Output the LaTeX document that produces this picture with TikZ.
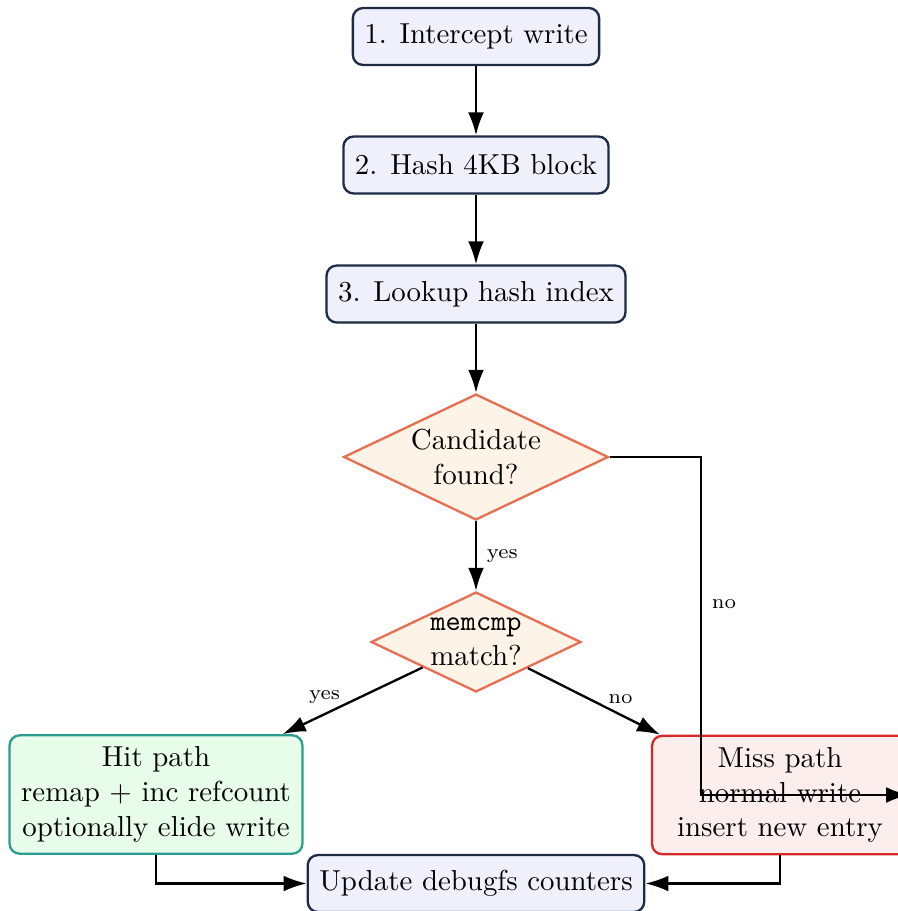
\documentclass[tikz,border=0pt]{standalone}
\usetikzlibrary{shapes.geometric,arrows.meta}
\definecolor{stepfill}{HTML}{EFF0FC}
\definecolor{stepdraw}{HTML}{1D2B45}
\definecolor{decfill}{HTML}{FDF3E7}
\definecolor{decdraw}{HTML}{E76F51}
\definecolor{hitfill}{HTML}{E8FCEA}
\definecolor{hitdraw}{HTML}{2A9D8F}
\definecolor{missfill}{HTML}{FDEEEE}
\definecolor{missdraw}{HTML}{D62828}
\tikzset{
  stepbox/.style={draw=stepdraw, fill=stepfill, thick, rounded corners=3.5pt,
    minimum height=19.7pt, inner xsep=4pt, inner ysep=4pt, align=center},
  hitbox/.style={stepbox, draw=hitdraw, fill=hitfill},
  missbox/.style={stepbox, draw=missdraw, fill=missfill},
  decbox/.style={shape=diamond, draw=decdraw, fill=decfill, thick, aspect=2,
    inner xsep=0pt, inner ysep=-3pt, align=center},
  arr/.style={thick, -{Latex[length=8pt,width=5.5pt]}},
  lbl/.style={font=\scriptsize, inner sep=3.33pt}
}
\begin{document}
\begin{tikzpicture}[x=0.3462pt, y=-0.3462pt]
\useasboundingbox (0,0) rectangle (898,911);
\clip (0,0) rectangle (898,911);
\node[stepbox] (n1) at (476,36.5) {1. Intercept write};
\node[stepbox] (n2) at (476,165) {2. Hash 4KB block};
\node[stepbox] (n3) at (476,294) {3. Lookup hash index};
\node[decbox, minimum width=91.7pt, minimum height=43.6pt] (d1) at (476,457) {Candidate\\found?};
\node[decbox, minimum width=72.7pt, minimum height=34.6pt] (d2) at (476,642) {\texttt{memcmp}\\match?};
\node[hitbox] (hit) at (156,794.5) {Hit path\\remap + inc refcount\\optionally elide write};
\node[missbox, minimum width=88.6pt] (miss) at (780,795) {Miss path\\normal write\\insert new entry};
\node[stepbox] (upd) at (476,883.5) {Update debugfs counters};
\coordinate (nb) at (701,457);

\draw[arr] (n1) -- (n2);
\draw[arr] (n2) -- (n3);
\draw[arr] (n3) -- (d1);
\draw[arr] (d1) -- node[lbl, right] {yes} (d2);
\draw[arr] (d1.east) -- (nb) -- node[lbl, right, pos=0.435] {no} (nb |- miss.east) -- (miss.east);
\draw[arr] (d2) -- node[lbl, anchor=south, pos=0.7] {yes} (hit);
\draw[arr] (d2) -- node[lbl, anchor=south, pos=0.7] {no} (miss);
\draw[arr] (hit.south) |- (upd.west);
\draw[arr] (miss.south) |- (upd.east);
\end{tikzpicture}
\end{document}
